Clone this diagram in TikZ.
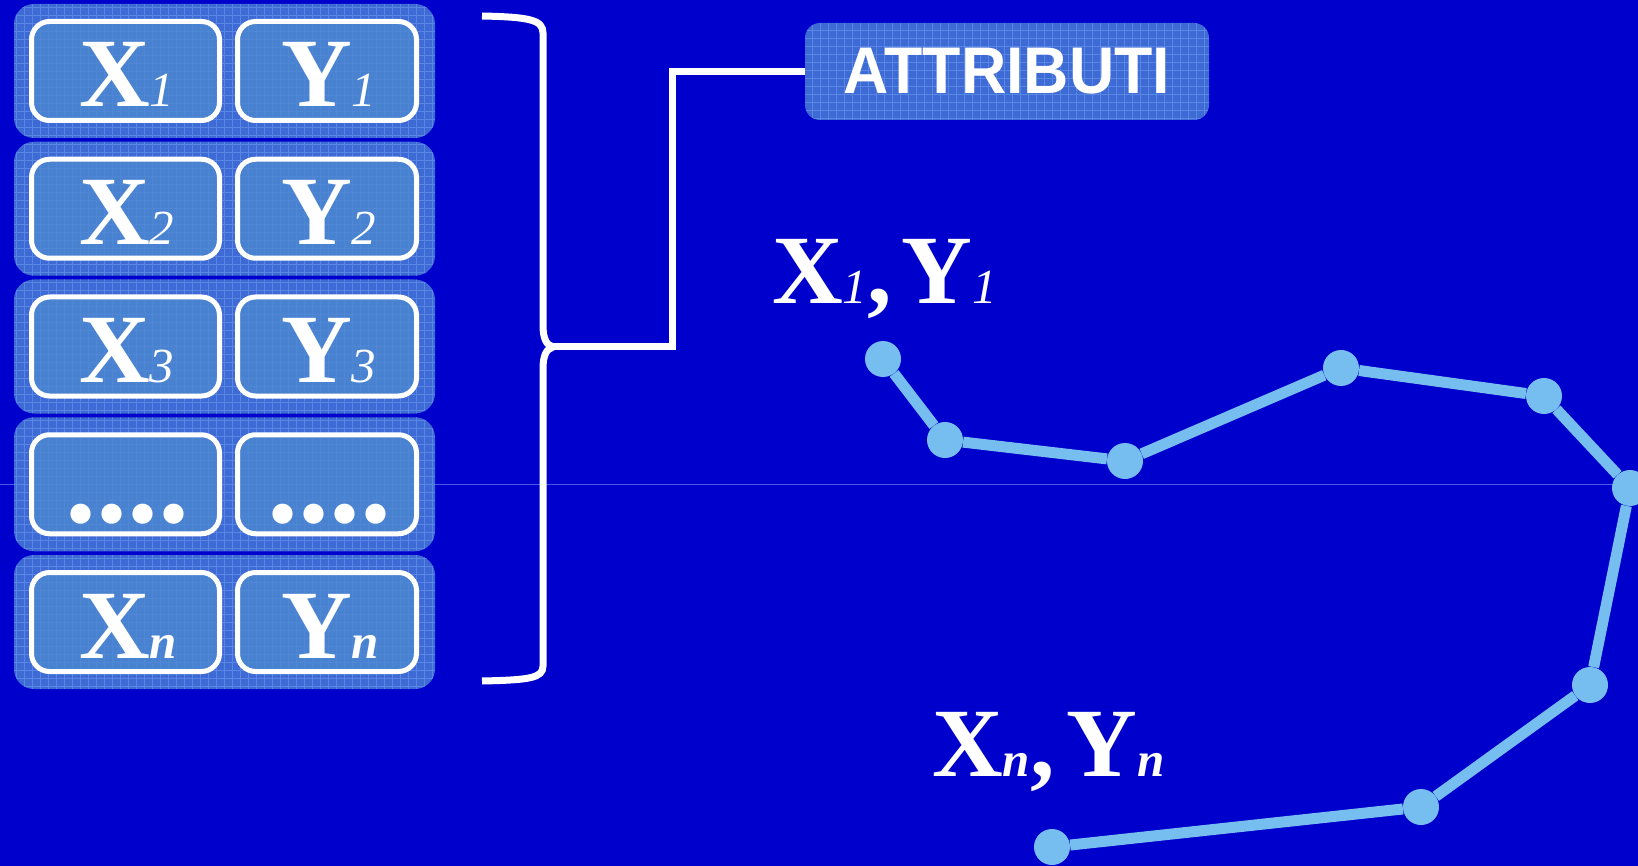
\documentclass[tikz,border=0pt]{standalone}
\usepackage{fontspec}
\setmainfont{Liberation Serif}
\newfontfamily\attrfont{Liberation Sans}
\newcommand\bigf{\fontsize{98}{98}\selectfont\bfseries\upshape}
\newcommand\subd{\fontsize{49}{49}\selectfont\mdseries\itshape}
\newcommand\subn{\fontsize{49}{49}\selectfont\bfseries\itshape}
\newcommand\dotf{\fontsize{124}{124}\selectfont\bfseries\upshape}
\definecolor{bg}{RGB}{0,0,204}
\definecolor{outerbox}{RGB}{62,106,214}
\definecolor{innerbox}{RGB}{78,136,210}
\definecolor{gridc}{RGB}{88,134,226}
\definecolor{ptc}{RGB}{118,190,240}
\definecolor{thinc}{RGB}{70,90,232}
\tikzset{
  gridfill/.style={path picture={\draw[gridc, line width=0.6pt, step=8pt] (path picture bounding box.south west) grid (path picture bounding box.north east);}},
  rowbox/.style={fill=outerbox, gridfill, rounded corners=20pt, minimum width=421, minimum height=134, inner sep=0, draw=none},
  cell/.style={draw=white, line width=5pt, rounded corners=18pt, fill=innerbox, fill opacity=0.8, draw opacity=1, minimum height=99, inner sep=0},
  txt/.style={anchor=base west, inner sep=0, text=white},
  attrbox/.style={fill=outerbox, gridfill, rounded corners=15pt, minimum width=404, minimum height=97, inner sep=0, text=white, font=\attrfont\bfseries\fontsize{66}{66}\selectfont},
  wline/.style={white, line width=7pt},
  pt/.style={circle, fill=ptc, minimum size=36, inner sep=0},
  conn/.style={ptc, line width=11pt}
}
\begin{document}
\begin{tikzpicture}[x=1pt, y=-1pt]
\useasboundingbox (0,0) rectangle (1638,866);
\fill[bg] (0,0) rectangle (1638,866);
\draw[thinc, line width=1pt] (0,484) -- (1630,484);
% rows
\foreach \i/\ty in {1/4, 2/141.75, 3/279.5, 4/417.25, 5/555} {
  \node[rowbox] (row\i) at (224.5, \ty+67) {};
  \node[cell, minimum width=188] (cx\i) at (125.5, \ty+67) {};
  \node[cell, minimum width=179] (cy\i) at (327, \ty+67) {};
}
\node[txt] (tx1) at (79,107) {\bigf X\subd 1};
\node[txt] (ty1) at (281,107) {\bigf Y\subd 1};
\node[txt] (tx2) at (79,245) {\bigf X\subd 2};
\node[txt] (ty2) at (281,245) {\bigf Y\subd 2};
\node[txt] (tx3) at (79,382.5) {\bigf X\subd 3};
\node[txt] (ty3) at (281,382.5) {\bigf Y\subd 3};
\node[txt] (tx4) at (65.5,522) {\dotf ....};
\node[txt] (ty4) at (267.5,522) {\dotf ....};
\node[txt] (tx5) at (79,658) {\bigf X\subn n};
\node[txt] (ty5) at (281,658) {\bigf Y\subn n};
% brace
\draw[wline] (482,16) .. controls (530,17) and (543,20) .. (543,33) -- (543,325)
  .. controls (543,338) and (546,345) .. (553,347)
  .. controls (546,349) and (543,356) .. (543,369) -- (543,666)
  .. controls (543,678) and (530,680) .. (482,681);
\coordinate (cusp) at (550,347);
% attributi
\node[attrbox] (attr) at (1007,71.5) {\scalebox{0.95}[1]{ATTRIBUTI}};
\draw[wline] (cusp) -- (672,347) |- (attr.west);
% polyline
\node[pt] (p1) at (883,359) {};
\node[pt] (p2) at (945,440) {};
\node[pt] (p3) at (1125,461) {};
\node[pt] (p4) at (1341,368) {};
\node[pt] (p5) at (1544,396) {};
\node[pt] (p6) at (1630,488) {};
\node[pt] (p7) at (1590,685) {};
\node[pt] (p8) at (1421,807) {};
\node[pt] (p9) at (1052,847) {};
\draw[conn] (p1) -- (p2);
\draw[conn] (p2) -- (p3);
\draw[conn] (p3) -- (p4);
\draw[conn] (p4) -- (p5);
\draw[conn] (p5) -- (p6);
\draw[conn] (p6) -- (p7);
\draw[conn] (p7) -- (p8);
\draw[conn] (p8) -- (p9);
% labels
\node[txt] (lab1) at (772,304) {\bigf X\subd 1\bigf ,\hspace{10pt}Y\subd 1};
\node[txt] (labn) at (932,776) {\bigf X\subn n\bigf ,\hspace{12pt}Y\subn n};
\end{tikzpicture}
\end{document}
